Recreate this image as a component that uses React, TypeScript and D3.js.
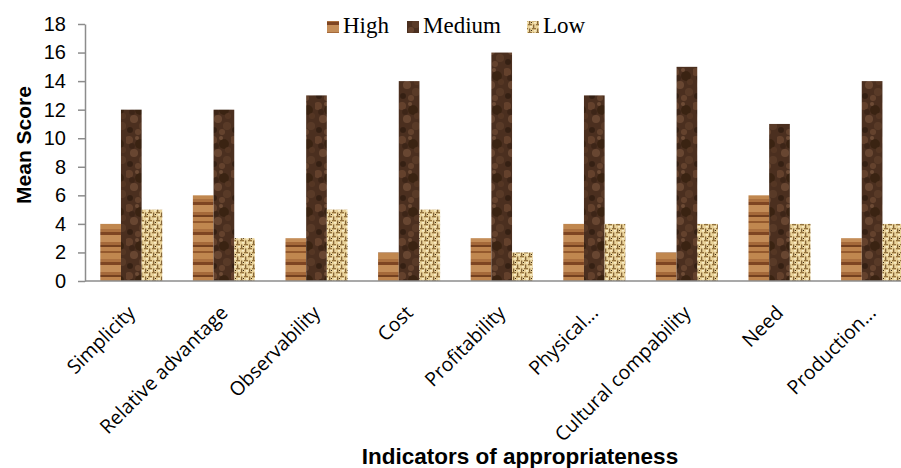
import React, { useEffect, useRef } from 'react';
import * as d3 from 'd3';

const W = 901;
const H = 468;
const margin = { top: 24, left: 85, bottom: 187 };
const bandW = 92.6;

const categories = [
  'Simplicity',
  'Relative advantage',
  'Observability',
  'Cost',
  'Profitability',
  'Physical...',
  'Cultural compability',
  'Need',
  'Production...',
];
const series = ['High', 'Medium', 'Low'];
const high = [4, 6, 3, 2, 3, 4, 2, 6, 3];
const medium = [12, 12, 13, 14, 16, 13, 15, 11, 14];
const low = [5, 3, 5, 5, 2, 4, 4, 4, 4];
const yTicks = [0, 2, 4, 6, 8, 10, 12, 14, 16, 18];

const patternIds = ['pat-high', 'pat-medium', 'pat-low'];

const App = () => {
  const ref = useRef<SVGSVGElement>(null);

  useEffect(() => {
    if (!ref.current) return;
    const svg = d3.select(ref.current);
    svg.selectAll('*').remove();

    // textures
    const defs = svg.append('defs');
    const wood = defs.append('pattern').attr('id', 'pat-high')
      .attr('patternUnits', 'userSpaceOnUse').attr('width', 21).attr('height', 30)
      .attr('y', 281);
    wood.append('rect').attr('width', 21).attr('height', 30).attr('fill', '#b57a47');
    const woodRows = [
      [0, 2, '#94592d'], [2, 6, '#c0874f'], [8, 3, '#ab703f'], [11, 3, '#7e4522'],
      [14, 7, '#c48d58'], [21, 3, '#a5693a'], [24, 2, '#74401f'], [26, 4, '#bd834d'],
    ];
    woodRows.forEach(([y, h, c]) => {
      wood.append('rect').attr('y', y as number).attr('width', 21).attr('height', h as number).attr('fill', c as string);
    });

    const marble = defs.append('pattern').attr('id', 'pat-medium')
      .attr('patternUnits', 'userSpaceOnUse').attr('width', 21).attr('height', 34);
    marble.append('rect').attr('width', 21).attr('height', 34).attr('fill', '#4b2f1f');
    const spots = [
      [3, 4, 4, '#6a4630'], [14, 8, 5, '#36200f'], [8, 17, 4, '#6f4c36'], [17, 24, 4, '#5d3d29'],
      [4, 28, 3, '#2f1d10'], [11, 2, 2, '#75523b'], [18, 14, 3, '#583824'], [6, 10, 3, '#3a2315'],
      [12, 30, 3, '#6a4731'],
    ];
    spots.forEach(([x, y, r, c]) => {
      marble.append('circle').attr('cx', x as number).attr('cy', y as number).attr('r', r as number)
        .attr('fill', c as string).attr('opacity', 0.8);
    });

    const weave = defs.append('pattern').attr('id', 'pat-low')
      .attr('patternUnits', 'userSpaceOnUse').attr('width', 8).attr('height', 8);
    weave.append('rect').attr('width', 8).attr('height', 8).attr('fill', '#ead39a');
    weave.append('rect').attr('x', 0).attr('y', 0).attr('width', 4).attr('height', 1.3).attr('fill', '#94733d');
    weave.append('rect').attr('x', 5).attr('y', 0.5).attr('width', 1.3).attr('height', 3.5).attr('fill', '#86673a');
    weave.append('rect').attr('x', 4).attr('y', 4).attr('width', 4).attr('height', 1.3).attr('fill', '#94733d');
    weave.append('rect').attr('x', 1).attr('y', 4.5).attr('width', 1.3).attr('height', 3.5).attr('fill', '#86673a');
    weave.append('rect').attr('x', 2).attr('y', 2).attr('width', 2).attr('height', 1.5).attr('fill', '#f8edc8');
    weave.append('rect').attr('x', 6).attr('y', 6).attr('width', 2).attr('height', 1.5).attr('fill', '#f8edc8');
    weave.append('rect').attr('x', 3).attr('y', 6).attr('width', 1).attr('height', 1).attr('fill', '#3e2c14');

    // scales
    const x0 = d3.scaleBand<string>()
      .domain(categories)
      .range([margin.left, margin.left + bandW * categories.length])
      .paddingInner(0.33)
      .paddingOuter(0.165);
    const x1 = d3.scaleBand<string>().domain(series).range([0, x0.bandwidth()]);
    const y = d3.scaleLinear().domain([0, 18]).range([H - margin.bottom, margin.top]);

    const values = [high, medium, low];

    // bars
    const g = svg.append('g');
    categories.forEach((c, i) => {
      series.forEach((s, j) => {
        g.append('rect')
          .attr('x', (x0(c) as number) + (x1(s) as number))
          .attr('y', y(values[j][i]))
          .attr('width', x1.bandwidth())
          .attr('height', y(0) - y(values[j][i]))
          .attr('fill', `url(#${patternIds[j]})`);
      });
    });

    // y axis
    const yAxis = d3.axisLeft(y).tickValues(yTicks).tickSize(7).tickSizeOuter(0).tickPadding(12);
    const ya = svg.append('g').attr('transform', `translate(${margin.left},0)`).call(yAxis);
    ya.selectAll('path, line').attr('stroke', '#8c8c8c').attr('stroke-width', 1.5);
    ya.selectAll('text').attr('font-family', 'Liberation Sans, Arial, sans-serif').attr('font-size', 20).attr('fill', '#000');

    // x axis line
    svg.append('line')
      .attr('x1', margin.left).attr('x2', W)
      .attr('y1', y(0)).attr('y2', y(0))
      .attr('stroke', '#8c8c8c').attr('stroke-width', 1.5);

    // category labels
    categories.forEach(c => {
      const cx = (x0(c) as number) + x0.bandwidth() / 2;
      svg.append('text')
        .attr('transform', `translate(${cx + 5},${y(0) + 33}) rotate(-45)`)
        .attr('text-anchor', 'end')
        .attr('font-family', 'Open Sans, sans-serif')
        .attr('font-size', 19.5)
        .attr('fill', '#000')
        .text(c);
    });

    // axis titles
    svg.append('text')
      .attr('transform', `translate(31,145) rotate(-90)`)
      .attr('text-anchor', 'middle')
      .attr('font-family', 'Liberation Sans, Arial, sans-serif')
      .attr('font-weight', 'bold')
      .attr('font-size', 21)
      .text('Mean Score');
    svg.append('text')
      .attr('x', 520).attr('y', 464)
      .attr('text-anchor', 'middle')
      .attr('font-family', 'Liberation Sans, Arial, sans-serif')
      .attr('font-weight', 'bold')
      .attr('font-size', 22.5)
      .text('Indicators of appropriateness');

    // legend
    const legendX = [327, 407, 527];
    series.forEach((s, j) => {
      svg.append('rect')
        .attr('x', legendX[j]).attr('y', 21)
        .attr('width', 12).attr('height', 12)
        .attr('fill', `url(#${patternIds[j]})`);
      svg.append('text')
        .attr('x', legendX[j] + 16).attr('y', 33)
        .attr('font-family', 'Liberation Serif, Times New Roman, serif')
        .attr('font-size', 23)
        .attr('fill', '#000')
        .text(s);
    });
  }, []);

  return (
    <svg
      width={W}
      height={H}
      ref={ref}
      style={{ display: 'block', position: 'absolute', left: 0, top: 0, background: '#fff' }}
    ></svg>
  );
};

export default App;
